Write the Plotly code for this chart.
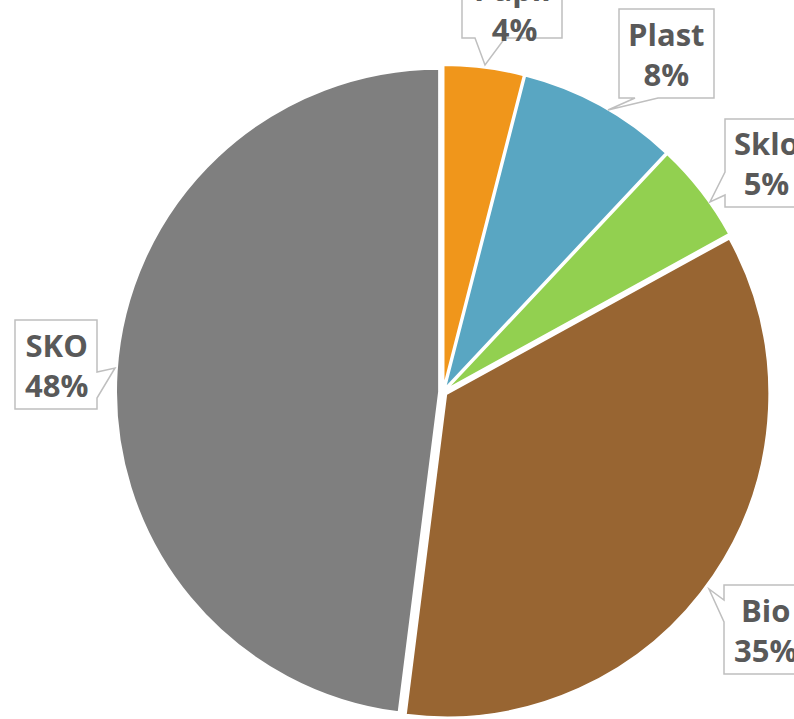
import plotly.graph_objects as go

# data
categories = ["Papír", "Plast", "Sklo", "Bio", "SKO"]
shares = [4, 8, 5, 35, 48]
slice_colors = ["#F0961B", "#59A6C2", "#92D050", "#986532", "#7F7F7F"]

W, H = 794, 719


def px(x, y):
    """pixel position -> paper coords (no margins)"""
    return x / W, 1 - y / H


# label callouts, in pixels: box (x0, y0, x1, y1), side of the pointer,
# the two base points and the tip, then where the text sits
callouts = {
    "Papír": dict(box=(462, -51, 562, 38), side="bottom", base=(505, 475), tip=(485, 65), text=(514, 9)),
    "Plast": dict(box=(619, 9, 714, 98), side="bottom", base=(658, 635), tip=(608, 110), text=(666, 54)),
    "Sklo": dict(box=(725, 119, 811, 207), side="left", base=(195, 172), tip=(710, 202), text=(766, 163)),
    "Bio": dict(box=(724, 585, 806, 674), side="left", base=(622, 600), tip=(709, 589), text=(765, 630)),
    "SKO": dict(box=(15, 320, 97, 409), side="right", base=(372, 398), tip=(115, 368), text=(56, 365)),
}


def callout_path(box, side, base, tip):
    x0, y0, x1, y1 = box
    pts = [(x0, y0), (x1, y0)]
    if side == "right":
        pts += [(x1, base[0]), tip, (x1, base[1])]
    pts += [(x1, y1)]
    if side == "bottom":
        pts += [(base[0], y1), tip, (base[1], y1)]
    pts += [(x0, y1)]
    if side == "left":
        pts += [(x0, base[0]), tip, (x0, base[1])]
    out = []
    for i, (x, y) in enumerate(pts):
        xp, yp = px(x, y)
        out.append(("M" if i == 0 else "L") + f"{xp:.5f},{yp:.5f}")
    return " ".join(out) + " Z"


# pie geometry (pixels): centre and outer size incl. the explosion
cx, cy, R = 443, 392, 327

fig = go.Figure(go.Pie(
    labels=categories,
    values=shares,
    sort=False,
    direction="clockwise",
    rotation=0,
    pull=0.012,
    marker=dict(colors=slice_colors, line=dict(color="white", width=2)),
    textinfo="none",
    hoverinfo="label+percent",
    domain=dict(x=[(cx - R) / W, (cx + R) / W], y=[(H - cy - R) / H, (H - cy + R) / H]),
))

total = sum(shares)
for name, val in zip(categories, shares):
    c = callouts[name]
    fig.add_shape(type="path", path=callout_path(c["box"], c["side"], c["base"], c["tip"]),
                  xref="paper", yref="paper", fillcolor="white",
                  line=dict(color="#BFBFBF", width=1.5), layer="above")
    tx, ty = px(*c["text"])
    fig.add_annotation(x=tx, y=ty, xref="paper", yref="paper",
                       text=f"{name}<br>{round(val / total * 100)}%",
                       showarrow=False, xanchor="center", yanchor="middle",
                       font=dict(family="Open Sans", size=31, color="#595959", weight="bold"))

fig.update_layout(
    width=W, height=H,
    margin=dict(l=0, r=0, t=0, b=0),
    showlegend=False,
    paper_bgcolor="white",
    plot_bgcolor="white",
)

# drop the default page margin so the figure sits at the window's corner
fig.write_html("out.html", config={"displayModeBar": False},
               post_script="document.body.style.margin='0';document.body.style.overflow='hidden';")
